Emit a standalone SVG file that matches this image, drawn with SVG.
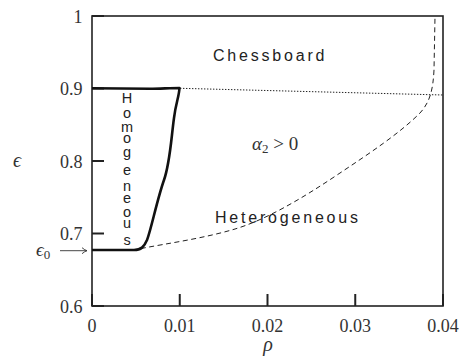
<svg xmlns="http://www.w3.org/2000/svg" width="461" height="360" viewBox="0 0 461 360">
<style>
.ax{fill:none;stroke:#222;stroke-width:1.6}
.tk{stroke:#222;stroke-width:2}
.num{font-family:"Liberation Serif","DejaVu Serif",serif;font-size:18px;fill:#333}
.it{font-family:"Liberation Serif","DejaVu Serif",serif;font-style:italic;fill:#333}
.lab{font-family:"Liberation Sans","DejaVu Sans",sans-serif;font-size:16px;fill:#222;letter-spacing:2.8px}
.hom{font-family:"Liberation Sans","DejaVu Sans",sans-serif;font-size:14.5px;fill:#222;text-anchor:middle}
</style>
<defs>
<marker id="ah" markerWidth="8" markerHeight="8" refX="6" refY="4" orient="auto" markerUnits="userSpaceOnUse">
<path d="M1,1 Q4,3.5 6,4 Q4,4.5 1,7" fill="none" stroke="#333" stroke-width="0.9"/>
</marker>
</defs>
<rect x="0" y="0" width="461" height="360" fill="#fff"/>
<g id="frame">
<rect class="ax" x="92" y="16" width="351" height="290"/>
<line class="tk" x1="92" y1="16" x2="104" y2="16"/>
<line class="tk" x1="92" y1="88.5" x2="104" y2="88.5"/>
<line class="tk" x1="92" y1="161" x2="104" y2="161"/>
<line class="tk" x1="92" y1="233.5" x2="104" y2="233.5"/>
<line class="tk" x1="92" y1="306" x2="104" y2="306"/>
<line class="tk" x1="92" y1="306" x2="92" y2="294"/>
<line class="tk" x1="179.75" y1="306" x2="179.75" y2="294"/>
<line class="tk" x1="267.5" y1="306" x2="267.5" y2="294"/>
<line class="tk" x1="355.25" y1="306" x2="355.25" y2="294"/>
<line class="tk" x1="443" y1="306" x2="443" y2="294"/>
</g>
<g id="ticklabels">
<text class="num" x="82.5" y="22.5" text-anchor="end">1</text>
<text class="num" x="82.5" y="95" text-anchor="end">0.9</text>
<text class="num" x="82.5" y="167.5" text-anchor="end">0.8</text>
<text class="num" x="82.5" y="240" text-anchor="end">0.7</text>
<text class="num" x="82.5" y="312.5" text-anchor="end">0.6</text>
<text class="num" x="92" y="332" text-anchor="middle">0</text>
<text class="num" x="179.75" y="332" text-anchor="middle">0.01</text>
<text class="num" x="267.5" y="332" text-anchor="middle">0.02</text>
<text class="num" x="355.25" y="332" text-anchor="middle">0.03</text>
<text class="num" x="443" y="332" text-anchor="middle">0.04</text>
<text class="it" x="17" y="166.5" font-size="20" text-anchor="middle">ϵ</text>
<text class="it" x="268" y="351" font-size="20" text-anchor="middle">ρ</text>
</g>
<g id="connectors">
<path d="M141,248.5 C170,243 205,238 235,229 C265,220 300,200 340,173 C370,153 400,133 420,113 C430,102 433,90 434,70 L435,17" fill="none" stroke="#222" stroke-width="1" stroke-dasharray="5,3.5"/>
<line x1="180" y1="88.3" x2="443" y2="95" stroke="#222" stroke-width="1" stroke-dasharray="1.4,1.6"/>
<path d="M92,250 L134,250 C141,250 144,247 147,240 C151,230 157,200 164,180 C170,163 171,140 174,118 C176,102 179,97 179.5,88 C170,88 160,88.8 150,88.8 C130,88.5 110,88.3 92,88.3" fill="none" stroke="#111" stroke-width="2.6" stroke-linejoin="round"/>
<line x1="60" y1="250.7" x2="87" y2="250.7" stroke="#333" stroke-width="0.9" marker-end="url(#ah)"/>
</g>
<g id="eps0">
<text class="it" x="36" y="256" font-size="19">ϵ<tspan font-style="normal" font-size="13" dy="3">0</tspan></text>
</g>
<g id="chessboard"><text class="lab" x="213" y="60.5">Chessboard</text></g>
<g id="heterogeneous"><text class="lab" x="215" y="222.5">Heterogeneous</text></g>
<g id="alpha"><text class="it" x="252" y="150" font-size="19">α<tspan font-style="normal" font-size="13" dy="3">2</tspan><tspan font-style="normal" font-size="19" dy="-3"> &gt; 0</tspan></text></g>
<g id="homogeneous">
<text class="hom" x="127" y="103.3">H</text>
<text class="hom" x="127" y="118.3">o</text>
<text class="hom" x="127" y="131.7">m</text>
<text class="hom" x="127" y="143.3">o</text>
<text class="hom" x="127" y="157">g</text>
<text class="hom" x="127" y="175">e</text>
<text class="hom" x="127" y="190.7">n</text>
<text class="hom" x="127" y="203.3">e</text>
<text class="hom" x="127" y="216.7">o</text>
<text class="hom" x="127" y="228.3">u</text>
<text class="hom" x="127" y="245">s</text>
</g>
</svg>
